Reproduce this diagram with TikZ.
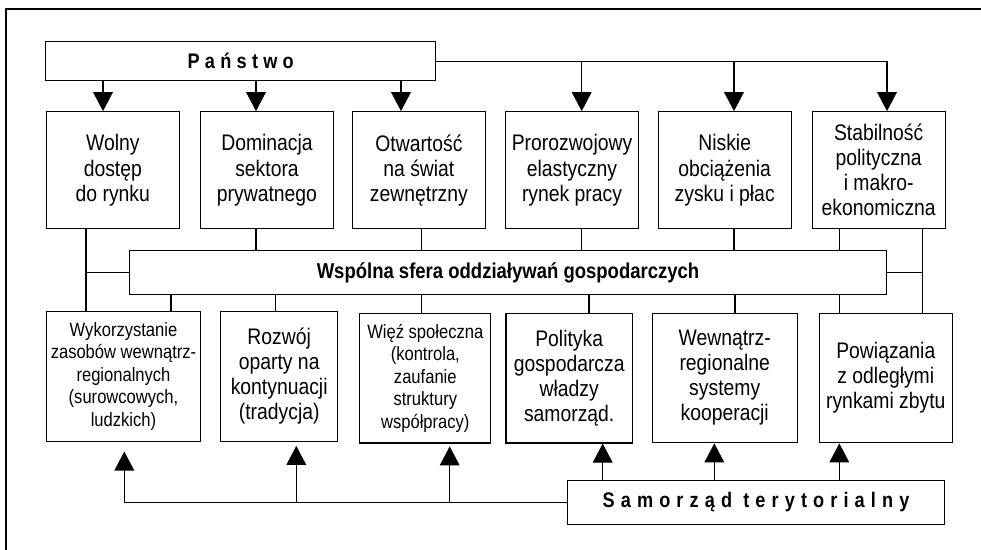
\documentclass[tikz,border=0pt]{standalone}
\usepackage{fontspec}
\setmainfont{Liberation Sans}[FakeStretch=0.86]
\newfontfamily\spacedfont{Liberation Sans}[FakeStretch=0.86,LetterSpace=25]
\newfontfamily\widefont{Liberation Sans}[FakeStretch=0.86,LetterSpace=29]
\usetikzlibrary{arrows.meta}

\begin{document}
\begin{tikzpicture}[
      x = .025cm, y = -.025cm,
      every node/.style = {
        draw, black, line width = .8pt, inner sep = 0pt, align = center,
        font = \fontsize{16}{17.8}\selectfont},
      every path/.style = {line width = .8pt},
      topbox/.style = {minimum width = 3.33cm, minimum height = 2.925cm},
      lowbox/.style = {minimum height = 3.24cm},
      small/.style = {font = \fontsize{13.7}{16.1}\selectfont},
      head/.style = {-{Triangle[length=13.5pt, width=14pt]}}
      ]
    \useasboundingbox (0,0) rectangle (981,550);
    \draw (981,9) -- (6,9) -- (6,550);
    \node[minimum width = 9.75cm, minimum height = .98cm,
      font = \spacedfont\bfseries\fontsize{15}{17}\selectfont]
      (Pan) at (240.7,61.3) {Państwo}; % 0
    \node[topbox] (T1) at (112.8,170.2) {Wolny\\dostęp\\do rynku}; % 1
    \node[topbox] (T2) at (267,170.2) {Dominacja\\sektora\\prywatnego}; % 2
    \node[topbox] (T3) at (418.9,170.2) {Otwartość\\na świat\\zewnętrzny}; % 3
    \node[topbox] (T4) at (572,170.2) {Prorozwojowy\\elastyczny\\rynek pracy}; % 4
    \node[topbox] (T5) at (724.7,170.2) {Niskie\\obciążenia\\zysku i płac}; % 5
    \node[topbox] (T6) at (878.7,170.2) {Stabilność\\polityczna\\i makro-\\ekonomiczna}; % 6
    \node[minimum width = 18.9cm, minimum height = 1.09cm,
      font = \bfseries\fontsize{15.3}{17}\selectfont]
      (Sph) at (508,272.5) {Wspólna sfera oddziaływań gospodarczych}; % 7
    \node[lowbox, small, minimum width = 3.86cm] (B1) at (123.5,376.3)
      {Wykorzystanie\\zasobów wewnątrz-\\regionalnych\\(surowcowych,\\ludzkich)}; % 8
    \node[lowbox, minimum width = 2.925cm] (B2) at (279.2,376.3)
      {Rozwój\\oparty na\\kontynuacji\\(tradycja)}; % 9
    \node[lowbox, small, minimum width = 3.28cm] (B3) at (425.3,378.2)
      {Więź społeczna\\(kontrola,\\zaufanie\\struktury\\współpracy)}; % 10
    \node[lowbox, minimum width = 3.16cm] (B4) at (569.2,378.2)
      {Polityka\\gospodarcza\\władzy\\samorząd.}; % 11
    \node[lowbox, minimum width = 3.62cm] (B5) at (724.7,378)
      {Wewnątrz-\\regionalne\\systemy\\kooperacji}; % 12
    \node[lowbox, minimum width = 3.33cm] (B6) at (885.8,378)
      {Powiązania\\z odległymi\\rynkami zbytu}; % 13
    \node[minimum width = 9.415cm, minimum height = 1.09cm,
      font = \widefont\bfseries\fontsize{15}{17}\selectfont]
      (Sam) at (756,502.5) {Samorząd terytorialny}; % 14
    % Panstwo
    \draw[head] (103,0 |- Pan.south) -- (103,0 |- T1.north);
    \draw[head] (256,0 |- Pan.south) -- (256,0 |- T2.north);
    \draw[head] (401,0 |- Pan.south) -- (401,0 |- T3.north);
    \draw[head] (Pan.east) -| (887,0 |- T6.north);
    \draw[head] (581.7,0 |- Pan.east) -- (581.7,0 |- T4.north);
    \draw[head] (734,0 |- Pan.east) -- (734,0 |- T5.north);
    % wspolna sfera
    \draw (86,0 |- T1.south) -- (86,0 |- B1.north);
    \draw (86,0 |- Sph.west) -- (Sph.west);
    \draw (922.7,0 |- T6.south) -- (922.7,0 |- B6.north);
    \draw (Sph.east) -- (922.7,0 |- Sph.east);
    \draw (256,0 |- T2.south) -- (256,0 |- Sph.north);
    \draw (421.7,0 |- T3.south) -- (421.7,0 |- Sph.north);
    \draw (581.7,0 |- T4.south) -- (581.7,0 |- Sph.north);
    \draw (734,0 |- T5.south) -- (734,0 |- Sph.north);
    \draw (839.3,0 |- T6.south) -- (839.3,0 |- Sph.north);
    \draw (171,0 |- Sph.south) -- (171,0 |- B1.north);
    \draw (275.7,0 |- Sph.south) -- (275.7,0 |- B2.north);
    \draw (421.7,0 |- Sph.south) -- (421.7,0 |- B3.north);
    \draw (589,0 |- Sph.south) -- (589,0 |- B4.north);
    \draw (735,0 |- Sph.south) -- (735,0 |- B5.north);
    \draw (839.3,0 |- Sph.south) -- (839.3,0 |- B6.north);
    % samorzad
    \draw[head, shorten >= 7pt] (Sam.west) -| (124.3,0 |- B1.south);
    \draw[head, shorten >= 3pt] (296.3,0 |- Sam.west) -- (296.3,0 |- B2.south);
    \draw[head, shorten >= 2pt] (449.7,0 |- Sam.west) -- (449.7,0 |- B3.south);
    \draw[head] (602.7,0 |- Sam.north) -- (602.7,0 |- B4.south);
    \draw[head] (714.3,0 |- Sam.north) -- (714.3,0 |- B5.south);
    \draw[head] (839.3,0 |- Sam.north) -- (839.3,0 |- B6.south);
  \end{tikzpicture}
\end{document}
